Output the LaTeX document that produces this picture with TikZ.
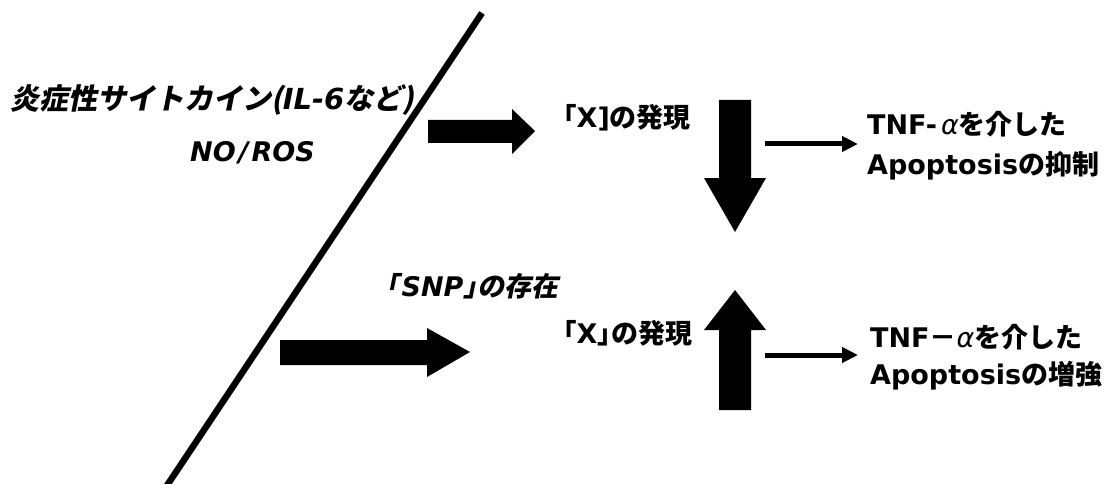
\documentclass[tikz,border=0pt]{standalone}
\usepackage{fontspec}
\setmainfont{DejaVu Sans}
\newfontfamily\jp{Noto Sans CJK JP Bold}
\newfontfamily\jpi{Noto Sans CJK JP Bold}[FakeSlant=0.2]
\usetikzlibrary{arrows.meta}
\newcommand\J[1]{{\jp #1}}
\newcommand\JI[1]{{\jpi #1}}
\newcommand\alf{{\mdseries\itshape α}}
\tikzset{
  lbl/.style={inner sep=0pt, anchor=west, font=\fontsize{27}{30}\selectfont\bfseries},
  ilbl/.style={inner sep=0pt, anchor=west, font=\fontsize{27}{30}\selectfont\bfseries\itshape},
  block/.style={fill=black, draw=none},
  thin arrow/.style={line width=5pt, -{Triangle[length=16pt,width=15pt]}},
}
\begin{document}
\begin{tikzpicture}[x=1pt,y=-1pt]
\path[use as bounding box] (0,0) rectangle (1119,484);
% diagonal divider
\coordinate (dtop) at (482,13);
\coordinate (dbot) at (164,490);
\draw[line width=6.5pt] (dtop) -- (dbot);
% left texts
\node[ilbl, font=\fontsize{29}{30}\selectfont\bfseries\itshape] (cyto) at (10,100) {\JI{炎症性サイトカイン(}IL-6\JI{など)}};
\node[ilbl] (noros) at (190,153) {NO\kern3pt/\kern3pt ROS};
\node[ilbl] (snp) at (385,286) {\JI{｢}\kern3pt SNP\JI{｣の存在}};
% middle texts
\node[lbl] (x1) at (563,118) {\J{｢}X]\J{の発現}};
\node[lbl] (x2) at (563,333) {\J{｢}X\J{｣の発現}};
% right texts
\node[lbl] (t1) at (867,124) {TNF-\kern4pt\alf\J{を介した}};
\node[lbl] (a1) at (867,166) {Apoptosis\J{の抑制}};
\node[lbl] (t2) at (870,337) {TNF\J{－}\alf\J{を介した}};
\node[lbl] (a2) at (870,376) {Apoptosis\J{の増強}};
% block arrow right (top)
\fill[block] (428,120) -- (512,120) -- (512,109) -- (535,131) -- (512,154) -- (512,143) -- (428,143) -- cycle;
% block arrow right (bottom)
\fill[block] (280,340) -- (427,340) -- (427,328) -- (470,352) -- (427,377) -- (427,365) -- (280,365) -- cycle;
% down arrow
\fill[block] (719,100) -- (751,100) -- (751,178) -- (766,178) -- (735,232) -- (704,178) -- (719,178) -- cycle;
% up arrow
\fill[block] (719,410) -- (751,410) -- (751,330) -- (766,330) -- (735,290) -- (704,330) -- (719,330) -- cycle;
% thin arrows
\coordinate (s1) at (765,144);
\coordinate (e1) at (858,144);
\coordinate (s2) at (765,355);
\coordinate (e2) at (858,355);
\draw[thin arrow] (s1) -- (e1);
\draw[thin arrow] (s2) -- (e2);
\end{tikzpicture}
\end{document}
